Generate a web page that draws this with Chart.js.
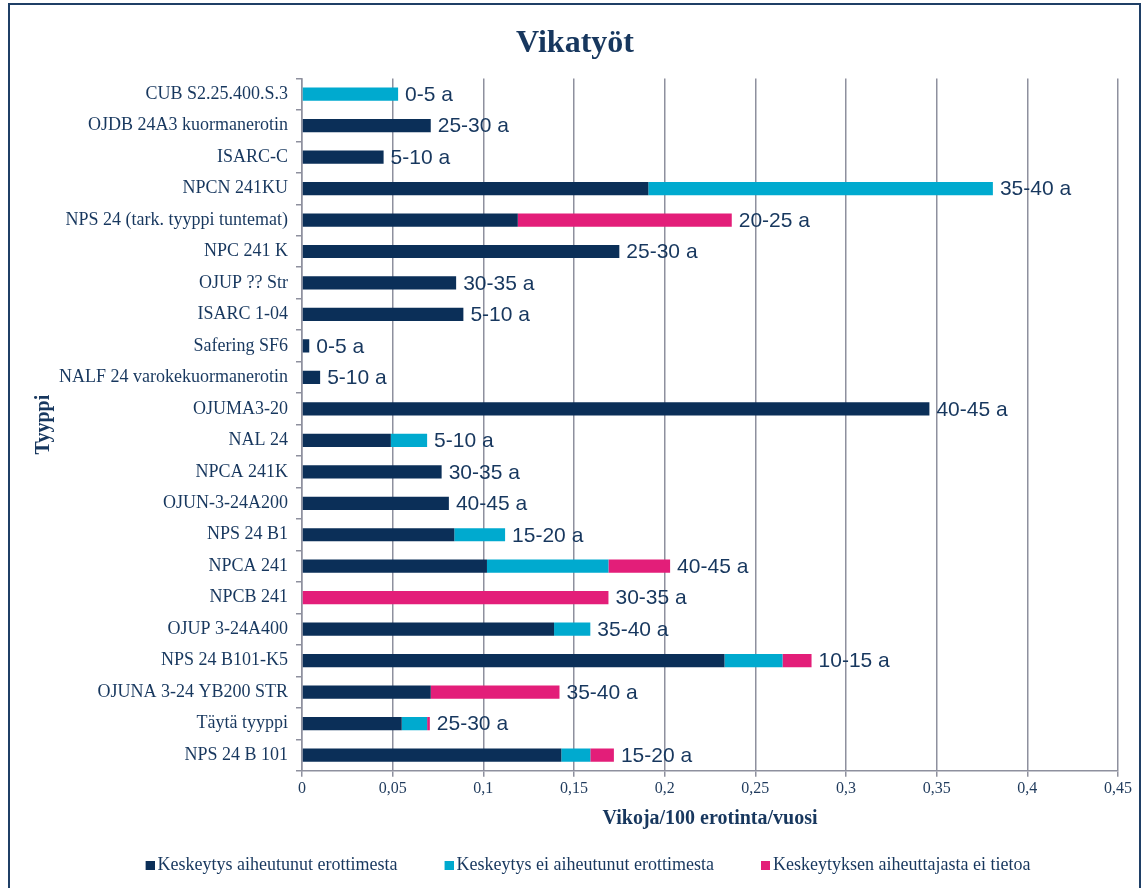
<!DOCTYPE html>
<html>
<head>
<meta charset="utf-8">
<script src="https://cdn.jsdelivr.net/npm/chart.js@4.4.1/dist/chart.umd.min.js"></script>
<style>
  html, body { margin: 0; padding: 0; background: #fff; }
  #wrap { width: 1144px; height: 888px; }
</style>
</head>
<body>
<div id="wrap"><canvas id="vikatyot" width="1144" height="888"></canvas></div>
<script>
// Erotintyypit ylhäältä alas
const types = [
    'CUB S2.25.400.S.3', 'OJDB 24A3 kuormanerotin', 'ISARC-C', 'NPCN 241KU',
    'NPS 24 (tark. tyyppi tuntemat)', 'NPC 241 K', 'OJUP ?? Str', 'ISARC 1-04',
    'Safering SF6', 'NALF 24 varokekuormanerotin', 'OJUMA3-20', 'NAL 24',
    'NPCA 241K', 'OJUN-3-24A200', 'NPS 24 B1', 'NPCA 241', 'NPCB 241',
    'OJUP 3-24A400', 'NPS 24 B101-K5', 'OJUNA 3-24 YB200 STR', 'Täytä tyyppi',
    'NPS 24 B 101'
];

// Vikoja/100 erotinta/vuosi
const causedBySwitch = [0, 0.071, 0.045, 0.191, 0.119, 0.175, 0.085, 0.089, 0.004, 0.010, 0.346,
    0.049, 0.077, 0.081, 0.084, 0.102, 0, 0.139, 0.233, 0.071, 0.055, 0.143];
const notCausedBySwitch = [0.053, 0, 0, 0.190, 0, 0, 0, 0, 0, 0, 0,
    0.020, 0, 0, 0.028, 0.067, 0, 0.020, 0.032, 0, 0.014, 0.016];
const causeUnknown = [0, 0, 0, 0, 0.118, 0, 0, 0, 0, 0, 0,
    0, 0, 0, 0, 0.034, 0.169, 0, 0.016, 0.071, 0.0015, 0.013];

// ikäluokat palkkien perässä
const ageLabels = ['0-5 a', '25-30 a', '5-10 a', '35-40 a', '20-25 a', '25-30 a', '30-35 a', '5-10 a',
    '0-5 a', '5-10 a', '40-45 a', '5-10 a', '30-35 a', '40-45 a', '15-20 a', '40-45 a', '30-35 a',
    '35-40 a', '10-15 a', '35-40 a', '25-30 a', '15-20 a'];

const xTickLabels = ['0', '0,05', '0,1', '0,15', '0,2', '0,25', '0,3', '0,35', '0,4', '0,45'];

const seriesColors = ['#0B2F58', '#00AACF', '#E31E79'];
const navy = '#17375E';
const gridGray = '#8E909E';
const serif = "'Liberation Serif', 'Times New Roman', serif";

// legendan neliö: kuva jonka oikeassa reunassa pieni neliö (väli tekstiin pieni)
const legendSlot = 29;
function legendSquare(color) {
    const cv = document.createElement('canvas');
    cv.width = legendSlot + 12;
    cv.height = 9;
    const g = cv.getContext('2d');
    g.fillStyle = color;
    g.fillRect(cv.width - 9, 0, 9, 9);
    return cv;
}
const legendImages = seriesColors.map(legendSquare);

// kehys koko kuvan ympärille
const framePlugin = {
    id: 'frame',
    beforeDraw(chart) {
        const c = chart.ctx;
        c.save();
        c.fillStyle = '#fff';
        c.fillRect(0, 0, chart.width, chart.height);
        c.strokeStyle = '#1F3F66';
        c.lineWidth = 2;
        c.strokeRect(9, 4, 1131, 900);
        c.restore();
    }
};

// ikäluokkatekstit pinon loppuun
const ageLabelPlugin = {
    id: 'ageLabels',
    afterDatasetsDraw(chart) {
        const c = chart.ctx;
        const xs = chart.scales.x, ys = chart.scales.y;
        c.save();
        c.font = "21px 'Liberation Sans', Arial, sans-serif";
        c.fillStyle = navy;
        c.textBaseline = 'middle';
        c.textAlign = 'left';
        types.forEach((t, i) => {
            const total = causedBySwitch[i] + notCausedBySwitch[i] + causeUnknown[i];
            c.fillText(ageLabels[i], xs.getPixelForValue(total) + 7, ys.getPixelForValue(i) + 1);
        });
        c.restore();
    }
};

const ctx = document.getElementById('vikatyot').getContext('2d');

const vikaChart = new Chart(ctx, {
    type: 'bar',
    data: {
        labels: types,
        datasets: [
            {
                label: 'Keskeytys aiheutunut erottimesta',
                data: causedBySwitch,
                backgroundColor: seriesColors[0]
            },
            {
                label: 'Keskeytys ei aiheutunut erottimesta',
                data: notCausedBySwitch,
                backgroundColor: seriesColors[1]
            },
            {
                label: 'Keskeytyksen aiheuttajasta ei tietoa',
                data: causeUnknown,
                backgroundColor: seriesColors[2]
            }
        ]
    },
    options: {
        indexAxis: 'y',
        responsive: false,
        animation: false,
        datasets: {
            bar: {
                categoryPercentage: 1,
                barPercentage: 0.42,
                borderWidth: 0
            }
        },
        layout: {
            padding: { left: 32, right: 26, top: 0, bottom: 4 }
        },
        scales: {
            x: {
                stacked: true,
                min: 0,
                max: 0.45,
                ticks: {
                    stepSize: 0.05,
                    padding: 2,
                    color: '#1F3A5C',
                    font: { family: serif, size: 16 },
                    callback: (v, i) => xTickLabels[i]
                },
                grid: {
                    color: gridGray,
                    lineWidth: 1.5,
                    tickLength: 6
                },
                border: { color: gridGray, width: 1.5 },
                title: {
                    display: true,
                    text: 'Vikoja/100 erotinta/vuosi',
                    color: navy,
                    font: { family: serif, size: 20, weight: 'bold' },
                    padding: { top: 7, bottom: 4 }
                }
            },
            y: {
                stacked: true,
                ticks: {
                    padding: 8,
                    color: navy,
                    font: { family: serif, size: 18 }
                },
                grid: {
                    drawOnChartArea: false,
                    color: gridGray,
                    lineWidth: 1.5,
                    tickLength: 6
                },
                border: { color: gridGray, width: 1.5 },
                title: {
                    display: true,
                    text: 'Tyyppi',
                    color: navy,
                    font: { family: serif, size: 20, weight: 'bold' },
                    padding: 0
                },
                afterFit(scale) {
                    scale.width = 270;
                }
            }
        },
        plugins: {
            title: {
                display: true,
                text: 'Vikatyöt',
                color: navy,
                font: { family: serif, size: 32, weight: 'bold' },
                padding: { top: 25, bottom: 15 }
            },
            legend: {
                display: true,
                position: 'bottom',
                labels: {
                    usePointStyle: true,
                    pointStyleWidth: legendSlot,
                    boxHeight: 9,
                    padding: 21,
                    color: navy,
                    font: { family: serif, size: 18 },
                    generateLabels(chart) {
                        const items = Chart.defaults.plugins.legend.labels.generateLabels(chart);
                        items.forEach((it, i) => { it.pointStyle = legendImages[i]; });
                        return items;
                    }
                }
            },
            tooltip: { enabled: true }
        }
    },
    plugins: [framePlugin, ageLabelPlugin]
});
</script>
</body>
</html>
